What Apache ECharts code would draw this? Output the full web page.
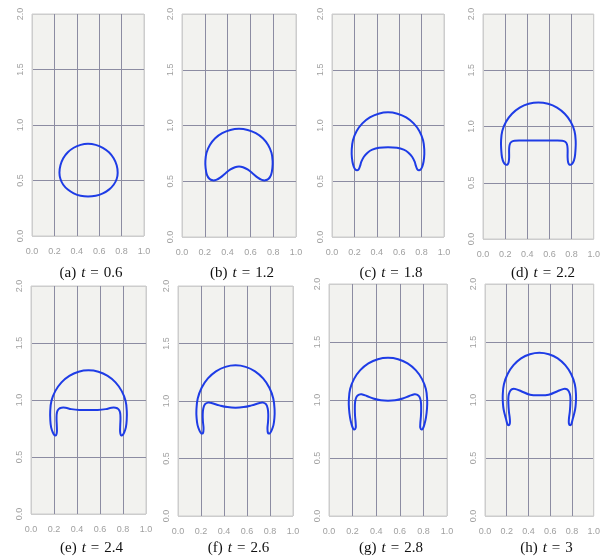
<!DOCTYPE html>
<html>
<head>
<meta charset="utf-8">
<script src="https://cdn.jsdelivr.net/npm/echarts@6/dist/echarts.min.js"></script>
<style>html,body{margin:0;padding:0;background:#fff}#c{width:603px;height:556px}</style>
</head>
<body>
<div id="c"></div>
<script>
// Tick labels
var xTicks = [0.0, 0.2, 0.4, 0.6, 0.8, 1.0];
var yTicks = [0.0, 0.5, 1.0, 1.5, 2.0];
// Panel labels and times
var panelLetters = ['a', 'b', 'c', 'd', 'e', 'f', 'g', 'h'];
var panelTimes = ['0.6', '1.2', '1.8', '2.2', '2.4', '2.6', '2.8', '3'];

// Interface curves [x, y] for each time (closed loops)
var curveA = [[0.5,0.83],[0.434,0.821],[0.3725,0.795],[0.32,0.754],[0.279,0.70],[0.254,0.637],[0.245,0.57],[0.254,0.514],[0.279,0.462],[0.32,0.418],[0.3725,0.384],[0.434,0.362],[0.5,0.355],[0.569,0.362],[0.6325,0.384],[0.687,0.418],[0.729,0.462],[0.756,0.514],[0.765,0.57],[0.756,0.637],[0.729,0.70],[0.687,0.754],[0.6325,0.795],[0.569,0.821]];
var curveB = [[0.5,0.97],[0.424,0.96],[0.3525,0.931],[0.291,0.885],[0.2445,0.825],[0.215,0.755],[0.205,0.68],[0.207,0.62],[0.218,0.56],[0.24,0.522],[0.27,0.508],[0.3,0.512],[0.335,0.532],[0.38,0.57],[0.425,0.606],[0.465,0.626],[0.5,0.632],[0.535,0.626],[0.575,0.606],[0.62,0.57],[0.665,0.532],[0.7,0.512],[0.73,0.508],[0.76,0.522],[0.782,0.56],[0.793,0.62],[0.795,0.68],[0.785,0.755],[0.7555,0.825],[0.709,0.885],[0.6475,0.931],[0.576,0.96]];
var curveC = [[0.5,1.118],[0.416,1.106],[0.338,1.073],[0.271,1.019],[0.219,0.949],[0.187,0.867],[0.176,0.78],[0.178,0.71],[0.188,0.65],[0.203,0.612],[0.222,0.598],[0.238,0.607],[0.25,0.635],[0.262,0.675],[0.285,0.72],[0.32,0.758],[0.36,0.783],[0.42,0.8],[0.5,0.805],[0.58,0.8],[0.64,0.783],[0.68,0.758],[0.715,0.72],[0.738,0.675],[0.75,0.635],[0.762,0.607],[0.778,0.598],[0.797,0.612],[0.812,0.65],[0.822,0.71],[0.824,0.78],[0.813,0.867],[0.781,0.949],[0.729,1.019],[0.662,1.073],[0.584,1.106]];
var curveD = [[0.5,1.214],[0.413,1.202],[0.3315,1.168],[0.262,1.113],[0.208,1.042],[0.174,0.959],[0.163,0.87],[0.165,0.79],[0.172,0.725],[0.187,0.68],[0.205,0.662],[0.222,0.663],[0.232,0.685],[0.236,0.73],[0.236,0.8],[0.242,0.842],[0.258,0.864],[0.285,0.873],[0.35,0.875],[0.5,0.875],[0.65,0.875],[0.715,0.873],[0.742,0.864],[0.758,0.842],[0.764,0.8],[0.764,0.73],[0.768,0.685],[0.778,0.663],[0.795,0.662],[0.813,0.68],[0.828,0.725],[0.835,0.79],[0.837,0.87],[0.826,0.959],[0.792,1.042],[0.738,1.113],[0.6685,1.168],[0.587,1.202]];
var curveE = [[0.5,1.26],[0.414,1.248],[0.3335,1.212],[0.265,1.155],[0.212,1.08],[0.178,0.993],[0.167,0.9],[0.168,0.82],[0.175,0.76],[0.19,0.715],[0.205,0.69],[0.218,0.692],[0.225,0.72],[0.224,0.78],[0.222,0.84],[0.226,0.893],[0.24,0.92],[0.265,0.932],[0.3,0.932],[0.35,0.92],[0.42,0.912],[0.5,0.912],[0.58,0.912],[0.65,0.92],[0.7,0.932],[0.735,0.932],[0.76,0.92],[0.774,0.893],[0.778,0.84],[0.776,0.78],[0.775,0.72],[0.782,0.692],[0.795,0.69],[0.81,0.715],[0.825,0.76],[0.832,0.82],[0.833,0.9],[0.822,0.993],[0.788,1.08],[0.735,1.155],[0.6665,1.212],[0.586,1.248]];
var curveF = [[0.5,1.31],[0.412,1.297],[0.33,1.258],[0.26,1.196],[0.2055,1.115],[0.1715,1.021],[0.16,0.92],[0.162,0.85],[0.17,0.79],[0.186,0.745],[0.203,0.718],[0.217,0.722],[0.222,0.76],[0.217,0.82],[0.215,0.88],[0.22,0.935],[0.235,0.972],[0.26,0.986],[0.29,0.982],[0.36,0.962],[0.43,0.947],[0.5,0.942],[0.57,0.947],[0.64,0.962],[0.71,0.982],[0.74,0.986],[0.765,0.972],[0.78,0.935],[0.785,0.88],[0.783,0.82],[0.778,0.76],[0.783,0.722],[0.797,0.718],[0.814,0.745],[0.83,0.79],[0.838,0.85],[0.84,0.92],[0.8285,1.021],[0.7945,1.115],[0.74,1.196],[0.67,1.258],[0.588,1.297]];
var curveG = [[0.5,1.364],[0.414,1.352],[0.334,1.315],[0.265,1.257],[0.2125,1.182],[0.179,1.094],[0.168,1.0],[0.17,0.92],[0.178,0.85],[0.19,0.795],[0.203,0.757],[0.215,0.745],[0.226,0.76],[0.226,0.8],[0.221,0.86],[0.219,0.92],[0.222,0.99],[0.235,1.03],[0.255,1.047],[0.276,1.05],[0.32,1.035],[0.375,1.013],[0.44,0.997],[0.5,0.993],[0.56,0.997],[0.625,1.013],[0.68,1.035],[0.724,1.05],[0.745,1.047],[0.765,1.03],[0.778,0.99],[0.781,0.92],[0.779,0.86],[0.774,0.8],[0.774,0.76],[0.785,0.745],[0.797,0.757],[0.81,0.795],[0.822,0.85],[0.83,0.92],[0.832,1.0],[0.821,1.094],[0.7875,1.182],[0.735,1.257],[0.666,1.315],[0.586,1.352]];
var curveH = [[0.5,1.408],[0.413,1.395],[0.3315,1.359],[0.262,1.30],[0.208,1.224],[0.174,1.135],[0.163,1.04],[0.165,0.97],[0.171,0.92],[0.182,0.875],[0.195,0.83],[0.205,0.795],[0.215,0.782],[0.228,0.795],[0.228,0.84],[0.22,0.9],[0.215,0.97],[0.216,1.034],[0.228,1.072],[0.245,1.092],[0.266,1.098],[0.29,1.092],[0.329,1.078],[0.414,1.046],[0.5,1.04],[0.586,1.046],[0.671,1.078],[0.71,1.092],[0.734,1.098],[0.755,1.092],[0.772,1.072],[0.784,1.034],[0.785,0.97],[0.78,0.9],[0.772,0.84],[0.772,0.795],[0.785,0.782],[0.795,0.795],[0.805,0.83],[0.818,0.875],[0.829,0.92],[0.835,0.97],[0.837,1.04],[0.826,1.135],[0.792,1.224],[0.738,1.30],[0.6685,1.359],[0.587,1.395]];
var curves = [curveA, curveB, curveC, curveD, curveE, curveF, curveG, curveH];

// Layout of panels (pixels)
var boxes = [
  {l: 32, t: 14, w: 112, h: 222},
  {l: 182, t: 14, w: 114, h: 223},
  {l: 332, t: 14, w: 112, h: 223},
  {l: 483, t: 14, w: 114, h: 225},
  {l: 31, t: 286, w: 115, h: 228},
  {l: 178, t: 286, w: 115, h: 230},
  {l: 329, t: 284, w: 118, h: 232},
  {l: 485, t: 284, w: 117, h: 232}
];
var captionTop = [261, 261, 261, 261, 536, 536, 536, 536];

var LIGHT = '#cdcdcd', DARK = '#8c8ca2';
var grids = [], xAxes = [], yAxes = [], series = [], titles = [];

function makeRender(pts) {
  return function (params, api) {
    if (params.dataIndex !== 0) return null;
    var pix = pts.map(function (p) { return api.coord(p); });
    return {
      type: 'polygon',
      shape: {points: pix, smooth: 0.4},
      style: {fill: 'none', stroke: '#1e3ce6', lineWidth: 2},
      silent: true
    };
  };
}

var capFont = {fontFamily: 'Liberation Serif', fontSize: 15, fontWeight: 'normal', color: '#111'};
function cap(extra) { var o = {}; for (var k in capFont) o[k] = capFont[k]; for (var e in extra) o[e] = extra[e]; return o; }

boxes.forEach(function (b, i) {
  grids.push({left: b.l, top: b.t, width: b.w, height: b.h, show: true,
    backgroundColor: '#f2f2ef', borderColor: LIGHT, borderWidth: 1, containLabel: false});
  xAxes.push({type: 'value', gridIndex: i, min: xTicks[0], max: xTicks[xTicks.length - 1], interval: 0.2,
    axisLine: {show: false}, axisTick: {show: false},
    axisLabel: {color: '#a0a0a0', fontSize: 9, fontFamily: 'Liberation Sans', margin: 11,
      showMinLabel: true, showMaxLabel: true, formatter: function (v) { return v.toFixed(1); }},
    splitLine: {show: true, lineStyle: {width: 1, color: [LIGHT, DARK, DARK, DARK, DARK, LIGHT]}}});
  yAxes.push({type: 'value', gridIndex: i, min: yTicks[0], max: yTicks[yTicks.length - 1], interval: 0.5,
    axisLine: {show: false}, axisTick: {show: false},
    axisLabel: {color: '#a0a0a0', fontSize: 9, fontFamily: 'Liberation Sans', margin: 7, rotate: 90,
      showMinLabel: true, showMaxLabel: true, formatter: function (v) { return v.toFixed(1); }},
    splitLine: {show: true, lineStyle: {width: 1, color: [LIGHT, DARK, DARK, DARK, LIGHT]}}});
  series.push({type: 'custom', xAxisIndex: i, yAxisIndex: i, coordinateSystem: 'cartesian2d',
    data: curves[i], encode: {x: 0, y: 1}, renderItem: makeRender(curves[i]),
    silent: true, animation: false, z: 5, clip: false});
  titles.push({text: '{p|(' + panelLetters[i] + ')}{i|t}{e|=}{n|' + panelTimes[i] + '}',
    left: b.l + b.w / 2 - 2, top: captionTop[i], textAlign: 'center',
    textStyle: {fontWeight: 'normal', rich: {
      p: cap({padding: [0, 5, 0, 0]}),
      i: cap({fontStyle: 'italic', padding: [0, 5, 0, 0]}),
      e: cap({padding: [0, 5, 0, 0]}),
      n: cap({})
    }}});
});

var chart = echarts.init(document.getElementById('c'), null, {renderer: 'canvas'});
chart.setOption({animation: false, title: titles, grid: grids, xAxis: xAxes, yAxis: yAxes, series: series});
</script>
</body>
</html>
